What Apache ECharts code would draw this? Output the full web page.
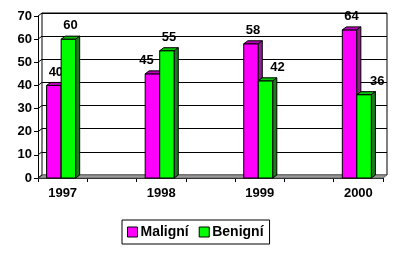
<!DOCTYPE html>
<html>
<head>
<meta charset="utf-8">
<script src="https://cdn.jsdelivr.net/npm/echarts@6/dist/echarts.min.js"></script>
<style>html,body{margin:0;padding:0;background:#fff}#c{width:400px;height:255px}</style>
</head>
<body>
<div id="c"></div>
<script>
// ---- data ----
const years = ['1997', '1998', '1999', '2000'];
const maligni = [40, 45, 58, 64];
const benigni = [60, 55, 42, 36];
const yTicks = [0, 10, 20, 30, 40, 50, 60, 70];
const seriesNames = ['Maligní', 'Benigní'];

// ---- layout / style ----
const FONT = "'Liberation Sans', Arial, sans-serif";
const DX = 4, DY = 3;            // 3D depth offset
const labelNudge = [[0, -8, 0, 0], [0, 0, 10, 11]];
const faces = [
  { front: '#ff00ff', top: '#b800b8', side: '#8e1f8e' },
  { front: '#00ff00', top: '#00c000', side: '#1c7c1c' }
];
// blank slot between every year, as in the original sheet
const slots = years.flatMap((y, i) => i < years.length - 1 ? [y, ''] : [y]);

function barRenderer(s) {
  return function (params, api) {
    const cat = api.value(0), v = api.value(1);
    const base = api.coord([cat, 0]);
    const top = api.coord([cat, v]);
    const cw = api.size([1, 0])[0];
    const bw = cw * 0.295;
    const split = base[0] - 1.5;
    const x0 = s === 0 ? split - bw : split;
    const x1 = x0 + bw;
    const yt = top[1], yb = base[1];
    const f = faces[s];
    const st = { stroke: '#000', lineWidth: 1 };
    return {
      type: 'group',
      children: [
        { type: 'rect', shape: { x: x0, y: yt, width: bw, height: yb - yt },
          style: Object.assign({ fill: f.front }, st) },
        { type: 'polygon', shape: { points: [[x0, yt], [x0 + DX, yt - DY], [x1 + DX, yt - DY], [x1, yt]] },
          style: Object.assign({ fill: f.top }, st) },
        { type: 'polygon', shape: { points: [[x1, yt], [x1 + DX, yt - DY], [x1 + DX, yb - DY], [x1, yb]] },
          style: Object.assign({ fill: f.side }, st) },
        { type: 'text', x: (x0 + x1) / 2 + DX / 2 + labelNudge[s][params.dataIndex], y: yt - DY - 4,
          style: { text: String(v), fill: '#000', font: 'bold 13px ' + FONT,
                   textAlign: 'center', textVerticalAlign: 'bottom' } }
      ]
    };
  };
}

function decorRenderer(params, api) {
  const cs = params.coordSys;
  const y = api.coord([0, api.value(1)])[1];
  const children = [
    { type: 'line', shape: { x1: cs.x, y1: y, x2: cs.x + DX, y2: y - DY },
      style: { stroke: '#000', lineWidth: 1 } }
  ];
  if (params.dataIndex === 0) {
    const yb = cs.y + cs.height;
    children.unshift({
      type: 'polygon',
      shape: { points: [[cs.x, yb], [cs.x + DX, yb - DY], [cs.x + cs.width + DX, yb - DY], [cs.x + cs.width, yb]] },
      style: { fill: '#9a9a9a', stroke: '#666', lineWidth: 1 }
    });
  }
  return { type: 'group', children };
}

const chart = echarts.init(document.getElementById('c'), null, { renderer: 'canvas' });
chart.setOption({
  animation: false,
  backgroundColor: '#fff',
  textStyle: { fontFamily: FONT },
  grid: [
    { left: 38, right: 17, top: 16, bottom: 77 },
    { left: 42, right: 13, top: 13, bottom: 80, show: true, borderColor: '#000', borderWidth: 1, backgroundColor: '#fff' }
  ],
  xAxis: [
    { type: 'category', gridIndex: 0, data: slots,
      axisLine: { lineStyle: { color: '#000', width: 1 } },
      axisTick: { show: true, interval: 0, length: 4, lineStyle: { color: '#000' } },
      axisLabel: { interval: 0, margin: 9, color: '#000', fontSize: 13, fontWeight: 'bold', fontFamily: FONT },
      splitLine: { show: false } },
    { type: 'category', gridIndex: 1, data: slots, show: false }
  ],
  yAxis: [
    { type: 'value', gridIndex: 0, min: 0, max: 70, interval: 10,
      axisLine: { show: true, lineStyle: { color: '#000', width: 1 } },
      axisTick: { show: true, length: 4, lineStyle: { color: '#000' } },
      axisLabel: { margin: 6, color: '#000', fontSize: 13, fontWeight: 'bold', fontFamily: FONT },
      splitLine: { show: false } },
    { type: 'value', gridIndex: 1, min: 0, max: 70, interval: 10,
      axisLine: { show: false }, axisTick: { show: false }, axisLabel: { show: false },
      splitLine: { show: true, lineStyle: { color: '#000', width: 1 } } }
  ],
  legend: {
    data: seriesNames,
    left: 122, top: 220,
    padding: [5, 6, 5, 5],
    borderColor: '#000', borderWidth: 1,
    itemGap: 10, itemWidth: 10, itemHeight: 10, icon: 'rect',
    itemStyle: { borderColor: '#000', borderWidth: 1 },
    textStyle: { color: '#000', fontSize: 14, fontWeight: 'bold', fontFamily: FONT, padding: [0, 0, 0, -2] }
  },
  series: [
    { type: 'custom', name: '_decor', xAxisIndex: 0, yAxisIndex: 0, silent: true,
      renderItem: decorRenderer, encode: { x: 0, y: 1 },
      data: yTicks.map(v => [0, v]) },
    { type: 'custom', name: seriesNames[0], xAxisIndex: 0, yAxisIndex: 0,
      itemStyle: { color: faces[0].front },
      renderItem: barRenderer(0), encode: { x: 0, y: 1 },
      data: maligni.map((v, i) => [i * 2, v]) },
    { type: 'custom', name: seriesNames[1], xAxisIndex: 0, yAxisIndex: 0,
      itemStyle: { color: faces[1].front },
      renderItem: barRenderer(1), encode: { x: 0, y: 1 },
      data: benigni.map((v, i) => [i * 2, v]) }
  ]
});
</script>
</body>
</html>
